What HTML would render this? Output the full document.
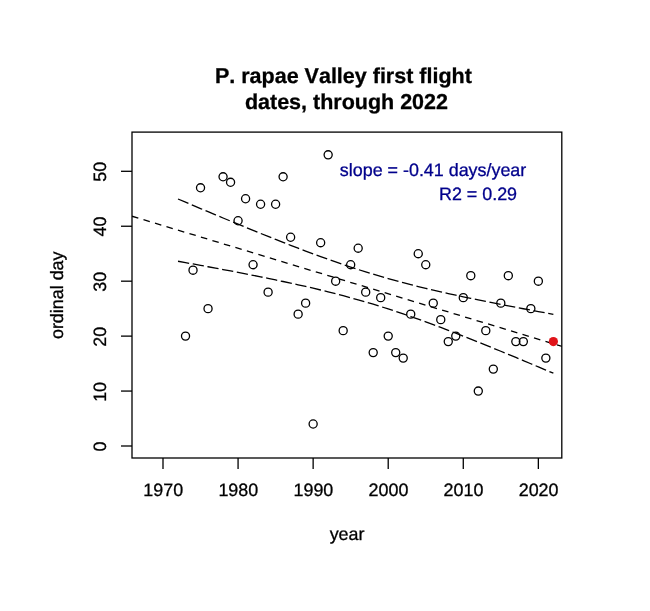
<!DOCTYPE html>
<html lang="en"><head><meta charset="utf-8"><title>P. rapae Valley first flight dates, through 2022</title>
<style>html,body{margin:0;padding:0;background:#fff}svg{display:block}text{font-kerning:none;stroke-width:0.3px;paint-order:stroke;text-rendering:geometricPrecision;font-family:'Liberation Sans', Arial, Helvetica, sans-serif}</style></head><body>
<svg width="650" height="611" viewBox="0 0 650 611">
<rect width="650" height="611" fill="#fff"/>
<g fill="none" stroke="#000" stroke-width="1.3">
<circle cx="185.52" cy="336.12" r="4.05"/>
<circle cx="193.03" cy="270.19" r="4.05"/>
<circle cx="200.53" cy="187.78" r="4.05"/>
<circle cx="208.04" cy="308.65" r="4.05"/>
<circle cx="223.06" cy="176.79" r="4.05"/>
<circle cx="230.56" cy="182.29" r="4.05"/>
<circle cx="238.07" cy="220.75" r="4.05"/>
<circle cx="245.58" cy="198.77" r="4.05"/>
<circle cx="253.08" cy="264.70" r="4.05"/>
<circle cx="260.59" cy="204.26" r="4.05"/>
<circle cx="268.10" cy="292.17" r="4.05"/>
<circle cx="275.61" cy="204.26" r="4.05"/>
<circle cx="283.11" cy="176.79" r="4.05"/>
<circle cx="290.62" cy="237.23" r="4.05"/>
<circle cx="298.13" cy="314.14" r="4.05"/>
<circle cx="305.63" cy="303.16" r="4.05"/>
<circle cx="313.14" cy="424.02" r="4.05"/>
<circle cx="320.65" cy="242.72" r="4.05"/>
<circle cx="328.15" cy="154.82" r="4.05"/>
<circle cx="335.66" cy="281.18" r="4.05"/>
<circle cx="343.17" cy="330.63" r="4.05"/>
<circle cx="350.67" cy="264.70" r="4.05"/>
<circle cx="358.18" cy="248.22" r="4.05"/>
<circle cx="365.69" cy="292.17" r="4.05"/>
<circle cx="373.20" cy="352.60" r="4.05"/>
<circle cx="380.70" cy="297.66" r="4.05"/>
<circle cx="388.21" cy="336.12" r="4.05"/>
<circle cx="395.72" cy="352.60" r="4.05"/>
<circle cx="403.22" cy="358.10" r="4.05"/>
<circle cx="410.73" cy="314.14" r="4.05"/>
<circle cx="418.24" cy="253.71" r="4.05"/>
<circle cx="425.75" cy="264.70" r="4.05"/>
<circle cx="433.25" cy="303.16" r="4.05"/>
<circle cx="440.76" cy="319.64" r="4.05"/>
<circle cx="448.27" cy="341.61" r="4.05"/>
<circle cx="455.77" cy="336.12" r="4.05"/>
<circle cx="463.28" cy="297.66" r="4.05"/>
<circle cx="470.79" cy="275.69" r="4.05"/>
<circle cx="478.29" cy="391.06" r="4.05"/>
<circle cx="485.80" cy="330.63" r="4.05"/>
<circle cx="493.31" cy="369.08" r="4.05"/>
<circle cx="500.81" cy="303.16" r="4.05"/>
<circle cx="508.32" cy="275.69" r="4.05"/>
<circle cx="515.83" cy="341.61" r="4.05"/>
<circle cx="523.34" cy="341.61" r="4.05"/>
<circle cx="530.84" cy="308.65" r="4.05"/>
<circle cx="538.35" cy="281.18" r="4.05"/>
<circle cx="545.86" cy="358.10" r="4.05"/>
</g>
<rect x="132.0" y="132.1" width="429.8" height="325.9" fill="none" stroke="#000" stroke-width="1.3"/>
<g stroke="#000" stroke-width="1.3" fill="none">
<line x1="163.00" y1="458.0" x2="163.00" y2="469.0"/>
<line x1="238.07" y1="458.0" x2="238.07" y2="469.0"/>
<line x1="313.14" y1="458.0" x2="313.14" y2="469.0"/>
<line x1="388.21" y1="458.0" x2="388.21" y2="469.0"/>
<line x1="463.28" y1="458.0" x2="463.28" y2="469.0"/>
<line x1="538.35" y1="458.0" x2="538.35" y2="469.0"/>
<line x1="132.0" y1="446.00" x2="121.0" y2="446.00"/>
<line x1="132.0" y1="391.06" x2="121.0" y2="391.06"/>
<line x1="132.0" y1="336.12" x2="121.0" y2="336.12"/>
<line x1="132.0" y1="281.18" x2="121.0" y2="281.18"/>
<line x1="132.0" y1="226.24" x2="121.0" y2="226.24"/>
<line x1="132.0" y1="171.30" x2="121.0" y2="171.30"/>
</g>
<text transform="translate(214.97,82.6)" font-size="21.5" font-weight="bold" fill="#000" stroke="#000">P. rapae Valley first flight</text>
<text transform="translate(244.89,109.0)" font-size="21.5" font-weight="bold" fill="#000" stroke="#000">dates, through 2022</text>
<text transform="translate(339.81,175.8)" font-size="17.9" fill="#00008b" stroke="#00008b">slope = -0.41 days/year</text>
<text transform="translate(438.98,200.0)" font-size="17.9" fill="#00008b" stroke="#00008b">R2 = 0.29</text>
<text transform="translate(329.67,539.8)" font-size="17.9" fill="#000" stroke="#000">year</text>
<text transform="translate(143.34,496.4)" font-size="17.9" fill="#000" stroke="#000">1970</text>
<text transform="translate(218.41,496.4)" font-size="17.9" fill="#000" stroke="#000">1980</text>
<text transform="translate(293.48,496.4)" font-size="17.9" fill="#000" stroke="#000">1990</text>
<text transform="translate(368.55,496.4)" font-size="17.9" fill="#000" stroke="#000">2000</text>
<text transform="translate(443.62,496.4)" font-size="17.9" fill="#000" stroke="#000">2010</text>
<text transform="translate(518.69,496.4)" font-size="17.9" fill="#000" stroke="#000">2020</text>
<text transform="translate(62.9,339.04) rotate(-90)" font-size="17.9" fill="#000" stroke="#000">ordinal day</text>
<text transform="translate(106.0,451.48) rotate(-90)" font-size="17.9" fill="#000" stroke="#000">0</text>
<text transform="translate(106.0,401.85) rotate(-90)" font-size="17.9" fill="#000" stroke="#000">10</text>
<text transform="translate(106.0,346.68) rotate(-90)" font-size="17.9" fill="#000" stroke="#000">20</text>
<text transform="translate(106.0,291.63) rotate(-90)" font-size="17.9" fill="#000" stroke="#000">30</text>
<text transform="translate(106.0,236.55) rotate(-90)" font-size="17.9" fill="#000" stroke="#000">40</text>
<text transform="translate(106.0,181.76) rotate(-90)" font-size="17.9" fill="#000" stroke="#000">50</text>
<defs><clipPath id="c"><rect x="132.0" y="132.1" width="429.8" height="325.9"/></clipPath></defs>
<g clip-path="url(#c)" fill="none" stroke="#000" stroke-width="1.3">
<line x1="132.00" y1="216.20" x2="568.38" y2="348.30" stroke-dasharray="6.6 5.4"/>
<polyline points="178.01,261.26 185.52,262.62 193.03,263.98 200.53,265.36 208.04,266.74 215.55,268.14 223.06,269.55 230.56,270.97 238.07,272.42 245.58,273.87 253.08,275.35 260.59,276.85 268.10,278.38 275.61,279.93 283.11,281.51 290.62,283.13 298.13,284.78 305.63,286.47 313.14,288.21 320.65,290.00 328.15,291.84 335.66,293.74 343.17,295.70 350.67,297.73 358.18,299.83 365.69,301.99 373.20,304.24 380.70,306.55 388.21,308.94 395.72,311.40 403.22,313.93 410.73,316.52 418.24,319.18 425.75,321.89 433.25,324.66 440.76,327.47 448.27,330.33 455.77,333.23 463.28,336.16 470.79,339.13 478.29,342.13 485.80,345.15 493.31,348.20 500.81,351.27 508.32,354.36 515.83,357.47 523.34,360.59 530.84,363.73 538.35,366.88 545.86,370.04 553.36,373.22" stroke-dasharray="11.3 3.65"/>
<polyline points="178.01,198.99 185.52,202.18 193.03,205.36 200.53,208.53 208.04,211.69 215.55,214.84 223.06,217.98 230.56,221.10 238.07,224.20 245.58,227.29 253.08,230.35 260.59,233.40 268.10,236.42 275.61,239.41 283.11,242.37 290.62,245.30 298.13,248.20 305.63,251.05 313.14,253.86 320.65,256.61 328.15,259.32 335.66,261.96 343.17,264.55 350.67,267.06 358.18,269.51 365.69,271.89 373.20,274.19 380.70,276.42 388.21,278.58 395.72,280.66 403.22,282.68 410.73,284.63 418.24,286.52 425.75,288.35 433.25,290.13 440.76,291.86 448.27,293.55 455.77,295.20 463.28,296.81 470.79,298.38 478.29,299.93 485.80,301.45 493.31,302.95 500.81,304.42 508.32,305.88 515.83,307.32 523.34,308.74 530.84,310.15 538.35,311.54 545.86,312.92 553.36,314.30" stroke-dasharray="11.3 3.65"/>
</g>
<circle cx="553.36" cy="341.61" r="4.6" fill="#e0141a" stroke="none"/>
</svg></body></html>
